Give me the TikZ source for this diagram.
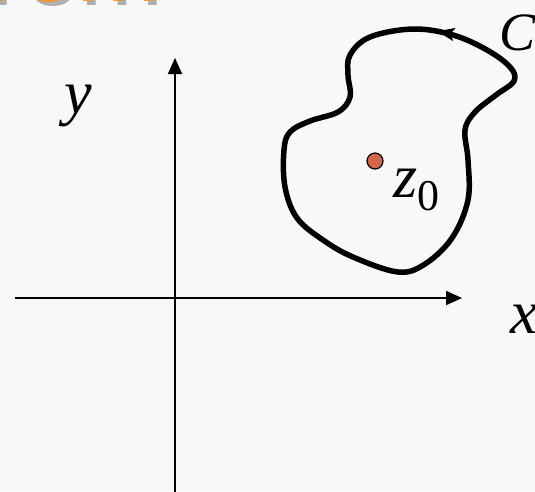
\documentclass[tikz,border=0pt]{standalone}
\usepackage{fontspec}
\setmainfont{Liberation Serif}
\newfontfamily\titlefont{Liberation Sans}
\usetikzlibrary{arrows.meta,decorations.markings}
\definecolor{bgc}{RGB}{248,248,248}
\definecolor{ttl}{RGB}{247,150,48}
\definecolor{shd}{RGB}{175,175,175}
\definecolor{dotc}{RGB}{210,103,74}
\begin{document}
\begin{tikzpicture}[x=1pt,y=-1pt,
  axis/.style={line width=2pt,-{Triangle[length=16pt,width=14pt]}},
  contour/.style={line width=5.5pt,line join=round,
    postaction={decorate,decoration={markings,
      mark=at position 16pt with {\arrow{Stealth[length=17pt,width=13pt,inset=4pt]}}}}},
  lbl/.style={inner sep=0pt,font=\fontsize{62}{62}\selectfont\itshape},
  ttlstyle/.style={inner sep=0pt,anchor=base west,font=\titlefont\fontsize{100}{100}\selectfont}]
\useasboundingbox (0,0) rectangle (535,491);
\fill[bgc] (0,0) rectangle (535,491);
\clip (0,0) rectangle (535,491);
% title (cut off at the top)
\node[ttlstyle,text=shd] (ttlshadow) at (-36,5) {from};
\node[ttlstyle,text=ttl] (ttl) at (-40,1.5) {from};
% axes
\coordinate (xl) at (15,298);
\coordinate (xr) at (462,298);
\coordinate (yb) at (175,495);
\coordinate (yt) at (175,58);
\draw[axis] (xl) -- (xr);
\draw[axis] (yb) -- (yt);
% contour
\draw[contour] plot[smooth cycle,tension=0.6] coordinates {
  (487,50) (453,35) (413,29) (370,37) (350,55) (348,75) (350,97) (338,112)
  (310,121) (290,132) (284,150) (285,187) (297,218) (323,240) (353,257)
  (398,272) (425,264) (452,238) (468,200) (468,160) (465,130) (475,112)
  (496,95) (514,81) (510,67)};
% point
\node[circle,draw=black,line width=1.2pt,fill=dotc,minimum size=16pt,inner sep=0pt] (z0) at (375,161) {};
\node[lbl,anchor=base west] (z0lab) at (393,197) {z\raisebox{-13pt}{\fontsize{44}{44}\selectfont\upshape 0}};
% labels
\node[lbl,anchor=base] (ylab) at (78,113) {y};
\node[lbl,anchor=base west] (xlab) at (510,333) {x};
\node[lbl,anchor=base west,font=\fontsize{54}{54}\selectfont\itshape] (clab) at (499,50) {C};
\end{tikzpicture}
\end{document}
